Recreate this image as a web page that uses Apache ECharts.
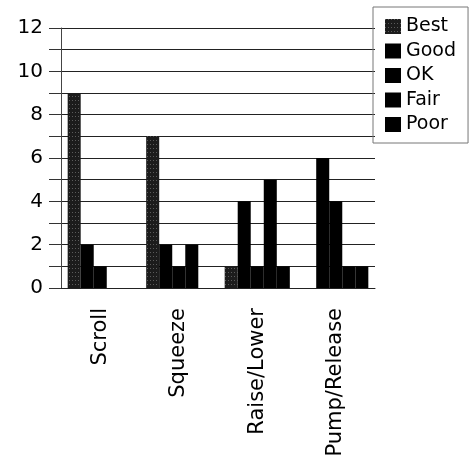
<!DOCTYPE html>
<html>
<head>
<meta charset="utf-8">
<script src="https://cdn.jsdelivr.net/npm/echarts@6/dist/echarts.min.js"></script>
<style>
  html, body { margin: 0; padding: 0; background: #fff; }
  #chart { width: 471px; height: 463px; }
</style>
</head>
<body>
<div id="chart"></div>
<script>
// Gesture ratings: count of responses per rating for each gesture
const categories = ['Scroll', 'Squeeze', 'Raise/Lower', 'Pump/Release'];
const ratings = ['Best', 'Good', 'OK', 'Fair', 'Poor'];
const best = [9, 7, 1, 0];
const good = [2, 2, 4, 6];
const ok   = [1, 1, 1, 4];
const fair = [0, 2, 5, 1];
const poor = [0, 0, 1, 1];
const yTicks = [0, 2, 4, 6, 8, 10, 12];

const seriesValues = [best, good, ok, fair, poor];
const seriesColors = ['#1c1c1c', '#000', '#000', '#000', '#000'];
const font = 'DejaVu Sans';

// the "Best" bars carry a fine stipple so they read apart from the solid ones
const stipple = {
  symbol: 'rect',
  symbolSize: 1,
  color: 'rgba(255,255,255,0.28)',
  dashArrayX: [1, 2],
  dashArrayY: [1, 3],
  rotation: 0
};

const chart = echarts.init(document.getElementById('chart'), null, { renderer: 'canvas' });
chart.setOption({
  backgroundColor: '#fff',
  animation: false,
  grid: { left: 61, right: 96, top: 28, bottom: 175, containLabel: false },
  legend: {
    orient: 'vertical',
    left: 373, top: 7,
    padding: [10, 12, 9, 12],
    itemWidth: 16, itemHeight: 15, itemGap: 5.5,
    borderColor: '#777', borderWidth: 1,
    icon: 'rect',
    textStyle: { fontFamily: font, fontSize: 19, color: '#000', lineHeight: 19, padding: [0, 0, 0, 0] },
    data: ratings
  },
  xAxis: {
    type: 'category',
    data: categories,
    axisLine: { lineStyle: { color: '#222', width: 1 } },
    axisTick: { alignWithLabel: true, length: 12, lineStyle: { color: '#444' } },
    axisLabel: { rotate: 90, margin: 20, fontFamily: font, fontSize: 21, color: '#000' }
  },
  yAxis: {
    type: 'value',
    min: 0, max: 12, interval: 1,
    axisLine: { show: true, lineStyle: { color: '#444', width: 1 } },
    axisTick: { show: true, length: 12, lineStyle: { color: '#333' } },
    axisLabel: {
      margin: 18, fontFamily: font, fontSize: 20, color: '#000',
      formatter: v => (yTicks.indexOf(v) >= 0 ? String(v) : '')
    },
    splitLine: { show: true, lineStyle: { color: '#222', width: 1 } }
  },
  series: ratings.map((name, i) => ({
    name,
    type: 'bar',
    data: seriesValues[i],
    barGap: '0%',
    barCategoryGap: '17%',
    itemStyle: i === 0 ? { color: seriesColors[i], decal: stipple } : { color: seriesColors[i] }
  }))
});
</script>
</body>
</html>
